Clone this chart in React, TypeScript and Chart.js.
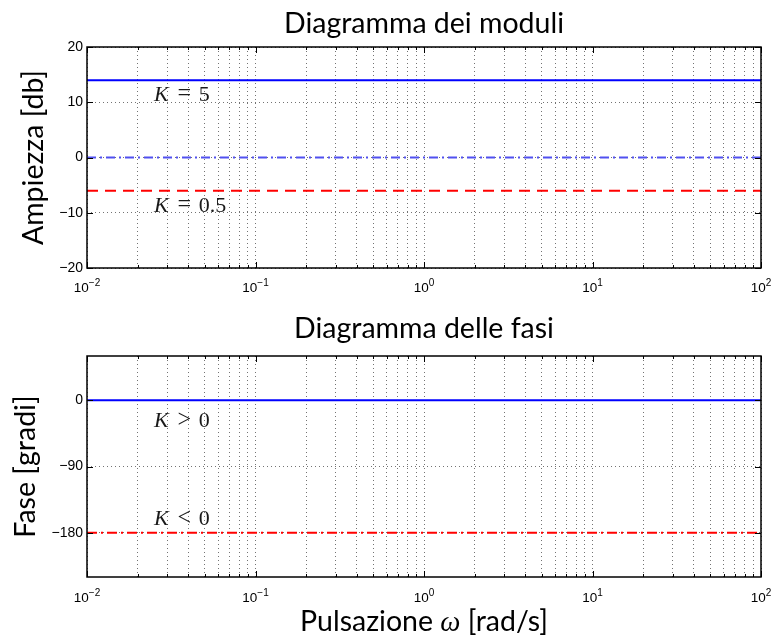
import React, { useEffect, useRef } from 'react';
import { Chart, registerables } from 'chart.js';

Chart.register(...registerables);

// ---- data ----
const OMEGA_RANGE = [0.01, 100];
const X_DECADES = [-2, -1, 0, 1, 2];
const X_MULTIPLIERS = [1, 2, 3, 4, 5, 6, 7, 8, 9];

const MAG_K5 = [13.98, 13.98];
const MAG_K1 = [0, 0];
const MAG_K05 = [-6.02, -6.02];
const MAG_RANGE = [-20, 20];
const MAG_TICKS = [-20, -10, 0, 10, 20];

const PHASE_KPOS = [0, 0];
const PHASE_KNEG = [-180, -180];
const PHASE_RANGE = [-240, 60];
const PHASE_TICKS = [-180, -90, 0];

const MAG_NOTES = [
  { rel: '=', val: '5', x: 0.025, y: 10.2 },
  { rel: '=', val: '0.5', x: 0.025, y: -9.8 },
];
const PHASE_NOTES = [
  { rel: '>', val: '0', x: 0.025, y: -36.5 },
  { rel: '<', val: '0', x: 0.025, y: -169.5 },
];

const TITLE_MAG = 'Diagramma dei moduli';
const TITLE_PHASE = 'Diagramma delle fasi';
const YLABEL_MAG = 'Ampiezza [db]';
const YLABEL_PHASE = 'Fase [gradi]';
const XLABEL_PARTS = ['Pulsazione ', 'ω', ' [rad/s]'];

const W = 783;
const SANS = 'Lato, "Noto Sans", sans-serif';
const TICKFONT = '"Liberation Sans", Arial, sans-serif';
const SERIF = '"Liberation Serif", "Times New Roman", serif';
const LABEL_SIZE = 28.5;

function buildXTicks() {
  const out: { value: number; major: boolean }[] = [];
  X_DECADES.forEach((d, i) => {
    if (i === X_DECADES.length - 1) {
      out.push({ value: Math.pow(10, d), major: true });
    } else {
      X_MULTIPLIERS.forEach((m) => out.push({ value: m * Math.pow(10, d), major: m === 1 }));
    }
  });
  return out;
}

function minus(v: number) {
  return String(v).replace('-', '\u2212');
}

type PanelOpts = {
  title: string;
  ylabel: string;
  xlabel?: string[];
  titleBase: number;
  ylabelBase: number;
  xlabelBase?: number;
  xTickBase: number;
  notes: { rel: string; val: string; x: number; y: number }[];
};

function overlayPlugin(o: PanelOpts) {
  return {
    id: 'overlay',
    afterDraw(chart: any) {
      const { ctx, chartArea: a } = chart;
      const xs = chart.scales.x;
      const ys = chart.scales.y;
      ctx.save();
      ctx.setLineDash([]);
      ctx.strokeStyle = '#000';
      // inner ticks
      ctx.lineWidth = 1;
      const L = Math.round(a.left);
      const T = Math.round(a.top);
      const R = Math.round(a.right);
      const B = Math.round(a.bottom);
      ctx.beginPath();
      xs.ticks.forEach((t: any) => {
        const px = Math.round(xs.getPixelForValue(t.value)) + 0.5;
        const len = t.major ? 6 : 3;
        ctx.moveTo(px, B);
        ctx.lineTo(px, B - len);
        ctx.moveTo(px, T);
        ctx.lineTo(px, T + len);
      });
      ys.ticks.forEach((t: any) => {
        const py = Math.round(ys.getPixelForValue(t.value)) + 0.5;
        ctx.moveTo(L, py);
        ctx.lineTo(L + 6, py);
        ctx.moveTo(R, py);
        ctx.lineTo(R - 6, py);
      });
      ctx.stroke();
      // box
      ctx.lineWidth = 1.5;
      ctx.strokeRect(L, T, R - L, B - T);

      // x tick labels 10^n
      ctx.fillStyle = '#000';
      ctx.textBaseline = 'alphabetic';
      ctx.textAlign = 'left';
      xs.ticks.forEach((t: any) => {
        if (!t.major) return;
        const exp = minus(Math.round(Math.log10(t.value)));
        const px = xs.getPixelForValue(t.value);
        ctx.font = `13.5px ${TICKFONT}`;
        const wb = ctx.measureText('10').width;
        ctx.font = `10px ${TICKFONT}`;
        const we = ctx.measureText(exp).width;
        const x0 = px - (wb + we) / 2;
        ctx.font = `13.5px ${TICKFONT}`;
        ctx.fillText('10', x0, o.xTickBase);
        ctx.font = `10px ${TICKFONT}`;
        ctx.fillText(exp, x0 + wb, o.xTickBase - 6);
      });

      // title
      const cx = (a.left + a.right) / 2;
      ctx.font = `${LABEL_SIZE}px ${SANS}`;
      ctx.textAlign = 'center';
      ctx.fillText(o.title, cx, o.titleBase);
      if (o.xlabel && o.xlabelBase) {
        const fonts = [
          `${LABEL_SIZE}px ${SANS}`,
          `italic ${LABEL_SIZE}px ${SERIF}`,
          `${LABEL_SIZE}px ${SANS}`,
        ];
        const widths = o.xlabel.map((s, i) => {
          ctx.font = fonts[i];
          return ctx.measureText(s).width;
        });
        const total = widths.reduce((p, c) => p + c, 0);
        let x = cx - total / 2;
        ctx.textAlign = 'left';
        o.xlabel.forEach((s, i) => {
          ctx.font = fonts[i];
          ctx.fillText(s, x, o.xlabelBase);
          x += widths[i];
        });
        ctx.textAlign = 'center';
      }
      // y label
      ctx.font = `${LABEL_SIZE}px ${SANS}`;
      ctx.save();
      ctx.translate(o.ylabelBase, (a.top + a.bottom) / 2);
      ctx.rotate(-Math.PI / 2);
      ctx.fillText(o.ylabel, 0, 0);
      ctx.restore();

      // annotations (math style)
      const fs = 22;
      o.notes.forEach((n) => {
        const x0 = xs.getPixelForValue(n.x);
        const y0 = ys.getPixelForValue(n.y);
        ctx.fillStyle = '#1a1a1a';
        ctx.textAlign = 'left';
        ctx.font = `italic ${fs}px ${SERIF}`;
        const wk = ctx.measureText('K').width;
        ctx.fillText('K', x0, y0);
        ctx.font = `${fs * 1.1}px ${SERIF}`;
        const relX = x0 + wk + 0.36 * fs;
        const rw = ctx.measureText(n.rel).width;
        ctx.fillText(n.rel, relX + (0.7 * fs - rw) / 2, y0);
        ctx.font = `${fs}px ${SERIF}`;
        ctx.fillText(n.val, relX + (0.7 + 0.3) * fs, y0);
      });
      ctx.restore();
    },
  };
}

function lineSet(ys: number[], color: string, dash: number[]) {
  return {
    data: OMEGA_RANGE.map((x, i) => ({ x, y: ys[i] })),
    borderColor: color,
    borderWidth: 2,
    borderDash: dash,
    pointRadius: 0,
    fill: false,
    tension: 0,
  };
}

function makeConfig(
  datasets: any[],
  yRange: number[],
  yTicks: number[],
  pad: { top: number; xHeight: number },
  o: PanelOpts
) {
  const grid = {
    color: 'rgba(0,0,0,0.55)',
    lineWidth: 1,
    drawTicks: false,
  };
  return {
    type: 'line',
    data: { datasets },
    options: {
      responsive: false,
      animation: false,
      devicePixelRatio: 1,
      layout: { padding: { top: pad.top, right: 22, left: 0, bottom: 0 } },
      plugins: { legend: { display: false }, title: { display: false }, tooltip: { enabled: false } },
      events: [],
      scales: {
        x: {
          type: 'logarithmic',
          min: OMEGA_RANGE[0],
          max: OMEGA_RANGE[1],
          grid,
          border: { display: false, dash: [1, 3] },
          ticks: { display: false, autoSkip: false },
          afterBuildTicks: (s: any) => {
            s.ticks = buildXTicks();
          },
          afterFit: (s: any) => {
            s.height = pad.xHeight;
          },
        },
        y: {
          type: 'linear',
          min: yRange[0],
          max: yRange[1],
          grid,
          border: { display: false, dash: [1, 3] },
          ticks: {
            autoSkip: false,
            padding: 4,
            color: '#000',
            font: { family: '"Liberation Sans", Arial, sans-serif', size: 14 },
            callback: (v: number) => minus(v),
          },
          afterBuildTicks: (s: any) => {
            s.ticks = yTicks.map((v) => ({ value: v }));
          },
          afterFit: (s: any) => {
            s.width = 87;
          },
        },
      },
    },
    plugins: [overlayPlugin(o)],
  };
}

export default function App() {
  const topRef = useRef<HTMLCanvasElement>(null);
  const botRef = useRef<HTMLCanvasElement>(null);

  useEffect(() => {
    const c1 = new Chart(
      topRef.current as HTMLCanvasElement,
      makeConfig(
        [
          lineSet(MAG_K5, '#0000ff', []),
          lineSet(MAG_K1, '#5050f0', [9, 4, 2, 4]),
          lineSet(MAG_K05, '#ff0000', [11, 7]),
        ],
        MAG_RANGE,
        MAG_TICKS,
        { top: 47, xHeight: 32 },
        {
          title: TITLE_MAG,
          ylabel: YLABEL_MAG,
          titleBase: 33,
          ylabelBase: 43,
          xTickBase: 292,
          notes: MAG_NOTES,
        }
      ) as any
    );
    const c2 = new Chart(
      botRef.current as HTMLCanvasElement,
      makeConfig(
        [lineSet(PHASE_KPOS, '#0000ff', []), lineSet(PHASE_KNEG, '#ff0000', [10, 4, 2, 4])],
        PHASE_RANGE,
        PHASE_TICKS,
        { top: 56, xHeight: 64 },
        {
          title: TITLE_PHASE,
          ylabel: YLABEL_PHASE,
          xlabel: XLABEL_PARTS,
          titleBase: 38,
          ylabelBase: 35,
          xlabelBase: 331,
          xTickBase: 302,
          notes: PHASE_NOTES,
        }
      ) as any
    );
    return () => {
      c1.destroy();
      c2.destroy();
    };
  }, []);

  return (
    <div style={{ position: 'absolute', left: 0, top: 0, width: W, height: 641, background: '#fff' }}>
      <canvas ref={topRef} width={W} height={300} style={{ position: 'absolute', left: 0, top: 0, display: 'block' }} />
      <canvas ref={botRef} width={W} height={341} style={{ position: 'absolute', left: 0, top: 300, display: 'block' }} />
    </div>
  );
}
